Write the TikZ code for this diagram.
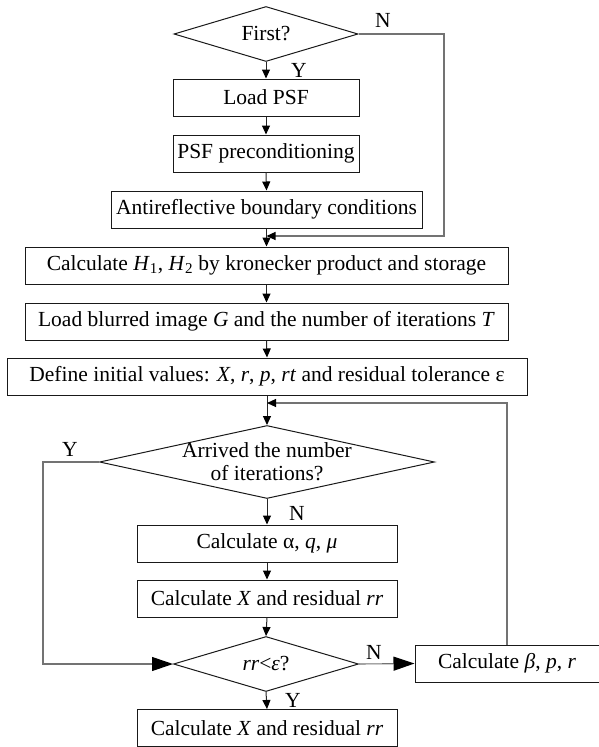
\documentclass[tikz,border=0pt]{standalone}
\usepackage{fontspec}
\setmainfont{Liberation Serif}
\usetikzlibrary{arrows.meta,shapes.geometric}
\begin{document}
\begin{tikzpicture}[x=1pt,y=-1pt,
  font=\fontsize{21.5}{24}\selectfont,
  bx/.style={draw=black!90, line width=1pt, inner sep=0pt, minimum height=37pt},
  dia/.style={draw=black!90, line width=1pt, diamond, inner sep=0pt},
  conn/.style={draw=black!85, line width=1pt},
  loop/.style={draw=black!55, line width=1.1pt},
  arr/.style={conn, -{Triangle[length=9pt,width=8pt,color=black]}},
  looparr/.style={loop, -{Triangle[length=9pt,width=8pt,color=black]}},
  bigarr/.style={loop, -{Triangle[length=21pt,width=14pt,color=black]}},
  lbl/.style={inner sep=0pt}]
\useasboundingbox (0,0) rectangle (598,747);
% nodes
\node[dia, minimum width=184pt, minimum height=55pt, label={center:First?}] (d1) at (266,34) {};
\node[bx, minimum width=186pt] (b1) at (266,97.5) {Load PSF};
\node[bx, minimum width=186pt] (b2) at (266,153.5) {PSF preconditioning};
\node[bx, minimum width=311pt] (b3) at (266.5,209.5) {Antireflective boundary conditions};
\node[bx, minimum width=483pt] (b4) at (266.5,265.5) {Calculate \textit{H}\textsubscript{1}, \textit{H}\textsubscript{2} by kronecker product and storage};
\node[bx, minimum width=483pt] (b5) at (266.5,321.5) {Load blurred image \textit{G} and the number of iterations \textit{T}};
\node[bx, minimum width=520pt] (b6) at (267,376.5) {Define initial values: \textit{X}, \textit{r}, \textit{p}, \textit{rt} and residual tolerance ε};
\node[dia, minimum width=335pt, minimum height=73pt, label={[align=center, font=\fontsize{21.5}{23}\selectfont]center:Arrived the number\\of iterations?}] (d2) at (267,462) {};
\node[bx, minimum width=260pt] (b7) at (267,543.5) {Calculate α, \textit{q}, \textit{μ}};
\node[bx, minimum width=260pt] (b8) at (267,598.5) {Calculate \textit{X} and residual \textit{rr}};
\node[dia, minimum width=185pt, minimum height=55pt, label={center:\textit{rr}<\textit{ε}?}] (d3) at (266,664) {};
\node[bx, minimum width=184pt] (b10) at (507,663.5) {Calculate \textit{β}, \textit{p}, \textit{r}};
\node[bx, minimum width=260pt] (b9) at (267,728) {Calculate \textit{X} and residual \textit{rr}};
% helper coordinates
\coordinate (c1) at (444,236);
\coordinate (j1) at (266.5,236);
\coordinate (j2) at (267,403);
\coordinate (c2) at (43,462);
% connectors
\draw[arr] (d1.south) -- (b1.north);
\draw[arr] (b1.south) -- (b2.north);
\draw[arr] (b2.south) -- (b3.north);
\draw[arr] (b3.south) -- (b4.north);
\draw[looparr] (d1.east) -| (c1) -- (j1);
\draw[arr] (b4.south) -- (b5.north);
\draw[arr] (b5.south) -- (b6.north);
\draw[arr] (b6.south) -- (d2.north);
\draw[looparr] (b10.north) |- (j2);
\draw[arr] (d2.south) -- (b7.north);
\draw[arr] (b7.south) -- (b8.north);
\draw[arr] (b8.south) -- (d3.north);
\draw[arr] (d3.south) -- (b9.north);
\draw[bigarr] (d2.west) -- (c2) |- (d3.west);
\draw[bigarr] (d3.east) -- (b10.west);
% labels
\node[lbl] (lN1) at (383,20) {N};
\node[lbl] (lY1) at (299,70) {Y};
\node[lbl] (lY2) at (70,449) {Y};
\node[lbl] (lN2) at (297,513) {N};
\node[lbl] (lN3) at (374,652) {N};
\node[lbl] (lY3) at (293,700) {Y};
\end{tikzpicture}
\end{document}
